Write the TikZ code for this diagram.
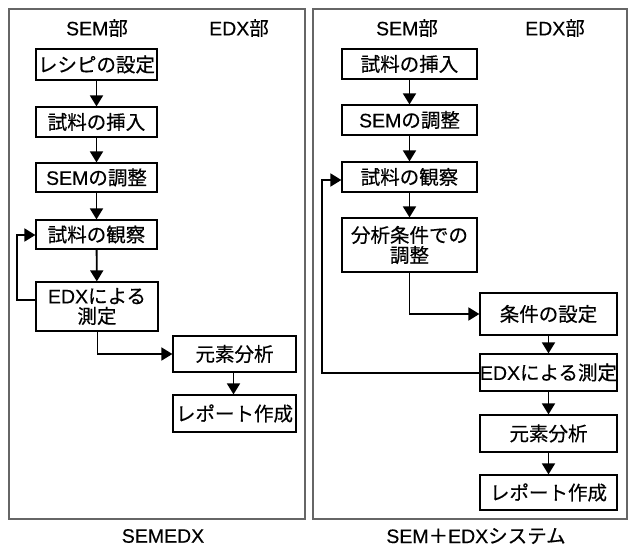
\documentclass[tikz,border=0pt]{standalone}
\usepackage{fontspec}
\setmainfont{Noto Sans CJK JP}[FakeBold=0.4]
\newfontfamily\lat{Liberation Sans}[FakeBold=0.3]
\usetikzlibrary{arrows.meta}
\tikzset{
  panel/.style={draw=black!60, line width=1.2pt},
  box/.style={draw=black, line width=1.2pt, align=center, inner sep=0pt, font=\fontsize{19.5}{20}\selectfont},
  lbl/.style={inner sep=0pt, font=\fontsize{19.5}{20}\selectfont},
  arr/.style={draw=black, line width=1.8pt, -{Triangle[length=11pt,width=13pt]}},
}
\newcommand{\bx}[6]{% name, x1, y1, x2, y2, text
  \node[box, minimum width={(#4-#2)*1pt}, minimum height={(#5-#3)*1pt}] (#1) at ({(#2+#4)/2*1pt},{-(#3+#5)/2*1pt}) {#6};}
\begin{document}
\begin{tikzpicture}[x=1pt,y=-1pt]
\useasboundingbox (0,0) rectangle (635,547);
% panels
\draw[panel] (9,9) rectangle (305,519);
\draw[panel] (313,9) rectangle (627,519);
% headers
\node[lbl] (lsem) at (97,28) {{\lat SEM}部};
\node[lbl] (ledx) at (239,28) {{\lat EDX}部};
\node[lbl] (rsem) at (407,28) {{\lat SEM}部};
\node[lbl] (redx) at (555,28) {{\lat EDX}部};
% captions
\node[lbl] (lcap) at (163,536) {\lat SEMEDX};
\node[lbl] (rcap) at (476,536) {{\lat SEM}＋{\lat EDX}システム};
% left boxes
\bx{L1}{36}{49}{157}{80}{レシピの設定}
\bx{L2}{36}{107}{157}{137}{試料の挿入}
\bx{L3}{36}{163}{157}{192}{{\lat SEM}の調整}
\bx{L4}{36}{220}{157}{249}{試料の観察}
\bx{L5}{36}{282}{158}{331}{{\lat EDX}による\\測定}
\bx{L6}{173}{336}{296}{372}{元素分析}
\bx{L7}{173}{395}{296}{432}{レポート作成}
% right boxes
\bx{R1}{342}{49}{477}{79}{試料の挿入}
\bx{R2}{342}{105}{477}{135}{{\lat SEM}の調整}
\bx{R3}{342}{162}{477}{192}{試料の観察}
\bx{R4}{342}{218}{477}{272}{分析条件での\\調整}
\bx{R5}{480}{293}{617}{335}{条件の設定}
\bx{R6}{480}{354}{617}{391}{{\lat EDX}による測定}
\bx{R7}{480}{415}{617}{452}{元素分析}
\bx{R8}{480}{475}{617}{510}{レポート作成}
% left arrows
\draw[arr] (L1) -- (L2);
\draw[arr] (L2) -- (L3);
\draw[arr] (L3) -- (L4);
\draw[arr] (L4) -- (L5);
\coordinate (lf1) at (17,300);
\coordinate (lf2) at (17,235);
\draw[arr] (L5.west |- lf1) -- (lf1) -- (lf2) -- (L4.west |- lf2);
\draw[arr] ([xshift=0.5pt]L5.south) |- (L6.west);
\draw[arr] ([xshift=-1pt]L6.south) -- ([xshift=-1pt]L7.north);
% right arrows
\draw[arr] (R1) -- (R2);
\draw[arr] (R2) -- (R3);
\draw[arr] (R3) -- (R4);
\draw[arr] (R4.south) |- (R5.west);
\draw[arr] (R5) -- (R6);
\draw[arr] (R6) -- (R7);
\draw[arr] (R7) -- (R8);
\coordinate (rf1) at (322,373);
\coordinate (rf2) at (322,180);
\draw[arr] (R6.west |- rf1) -- (rf1) -- (rf2) -- (R3.west |- rf2);
\end{tikzpicture}
\end{document}
